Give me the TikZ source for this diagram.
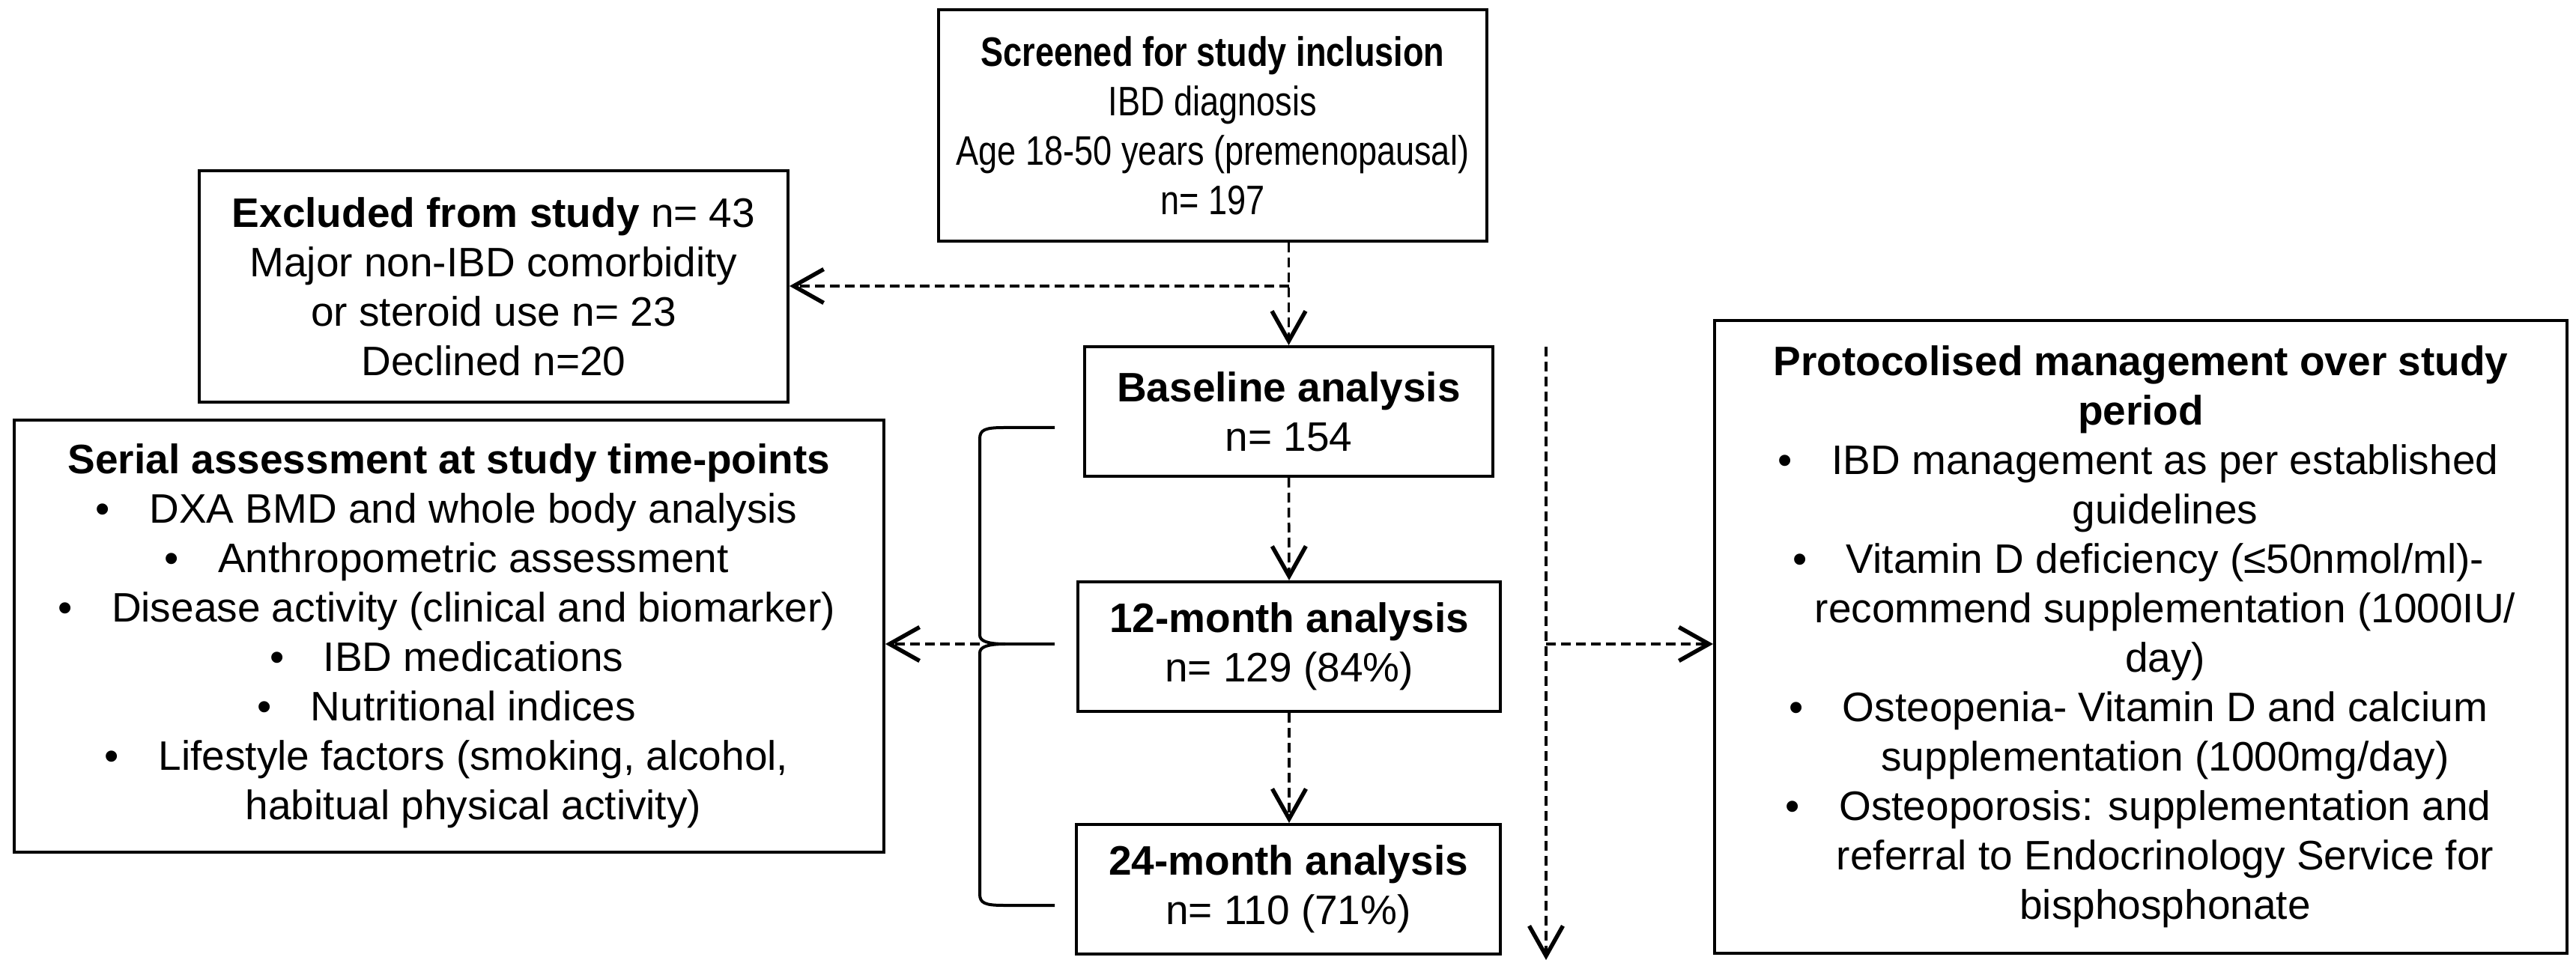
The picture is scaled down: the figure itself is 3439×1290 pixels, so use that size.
\documentclass[tikz,border=0pt]{standalone}
\usepackage{fontspec}
\setmainfont{Liberation Sans}
\newfontfamily\narrowsans[FakeStretch=0.82]{Liberation Sans}
\usetikzlibrary{arrows.meta}
\newcommand{\bitem}[1]{\hspace*{13pt}\llap{\textbullet\hspace{10.5pt}}#1}
\newcommand{\bcont}[1]{\hspace*{13pt}#1}
\begin{document}
\begin{tikzpicture}[x=0.2pt,y=-0.2pt,
  box/.style={draw=black, line width=0.8pt, align=center, inner sep=0pt,
    font=\fontsize{11}{13.2}\selectfont},
  dln/.style={line width=0.7pt, dash pattern=on 2.6pt off 1.4pt},
  dar/.style={dln, -{Straight Barb[length=8pt,width=9pt,line width=1.1pt]}},
  brace/.style={line width=0.8pt}]
\useasboundingbox (0,0) rectangle (3439,1290);

\node[box, minimum width=146.4pt, minimum height=61.8pt,
      font=\fontsize{11}{13.2}\selectfont\narrowsans] (screened) at (1619,167.5)
  {\textbf{Screened for study inclusion}\\IBD diagnosis\\Age 18-50 years (premenopausal)\\n= 197};

\node[box, minimum width=157.2pt, minimum height=61.8pt] (excluded) at (659,382.5)
  {\textbf{Excluded from study} n= 43\\Major non-IBD comorbidity\\or steroid use n= 23\\Declined n=20};

\node[box, minimum width=232.2pt, minimum height=115.4pt] (serial) at (599.5,849.5)
  {\textbf{Serial assessment at study time-points}\\
   \bitem{DXA BMD and whole body analysis}\\
   \bitem{Anthropometric assessment}\\
   \bitem{Disease activity (clinical and biomarker)}\\
   \bitem{IBD medications}\\
   \bitem{Nutritional indices}\\
   \bitem{Lifestyle factors (smoking, alcohol,}\\
   \bcont{habitual physical activity)}};

\node[box, minimum width=109pt, minimum height=34.6pt] (baseline) at (1720.5,549.5)
  {\textbf{Baseline analysis}\\n= 154};
\node[box, minimum width=112.8pt, minimum height=34.6pt] (m12) at (1721,863.5)
  {\textbf{12-month analysis}\\n= 129 (84\%)};
\node[box, minimum width=113.2pt, minimum height=34.6pt] (m24) at (1720,1187.5)
  {\textbf{24-month analysis}\\n= 110 (71\%)};

\node[box, minimum width=227.6pt, minimum height=169pt] (protocol) at (2858,850.5)
  {\textbf{Protocolised management over study}\\
   \textbf{period}\\
   \bitem{IBD management as per established}\\
   \bcont{guidelines}\\
   \bitem{Vitamin D deficiency (≤50nmol/ml)-}\\
   \bcont{recommend supplementation (1000IU/}\\
   \bcont{day)}\\
   \bitem{Osteopenia- Vitamin D and calcium}\\
   \bcont{supplementation (1000mg/day)}\\
   \bitem{Osteoporosis: supplementation and}\\
   \bcont{referral to Endocrinology Service for}\\
   \bcont{bisphosphonate}};

% main flow
\draw[dar] (baseline.north |- screened.south) -- (baseline.north);
\coordinate (ex) at (1720.5,382);
\draw[dar] (ex) -- (ex -| excluded.east);
\draw[dar] (baseline.south) -- (m12.north);
\draw[dar] (m12.south) -- (m12.south |- m24.north);

% bracket
\draw[brace] (1408,571) -- (1340,571) .. controls (1315,571) and (1308,574) .. (1308,586)
  -- (1308,848) .. controls (1308,856) and (1318,860) .. (1342,860)
  .. controls (1318,860) and (1308,864) .. (1308,872)
  -- (1308,1194) .. controls (1308,1206) and (1315,1209) .. (1340,1209) -- (1408,1209);
\coordinate (brtip) at (1308,860);
\draw[brace] (1342,860) -- (1408,860);
\draw[dar] (brtip) -- (brtip -| serial.east);

% right time line
\coordinate (rtop) at (2064,463);
\coordinate (rbot) at (2064,1282);
\coordinate (rmid) at (2064,860);
\draw[dar] (rtop) -- (rbot);
\draw[dar] (rmid) -- (rmid -| protocol.west);
\end{tikzpicture}
\end{document}
